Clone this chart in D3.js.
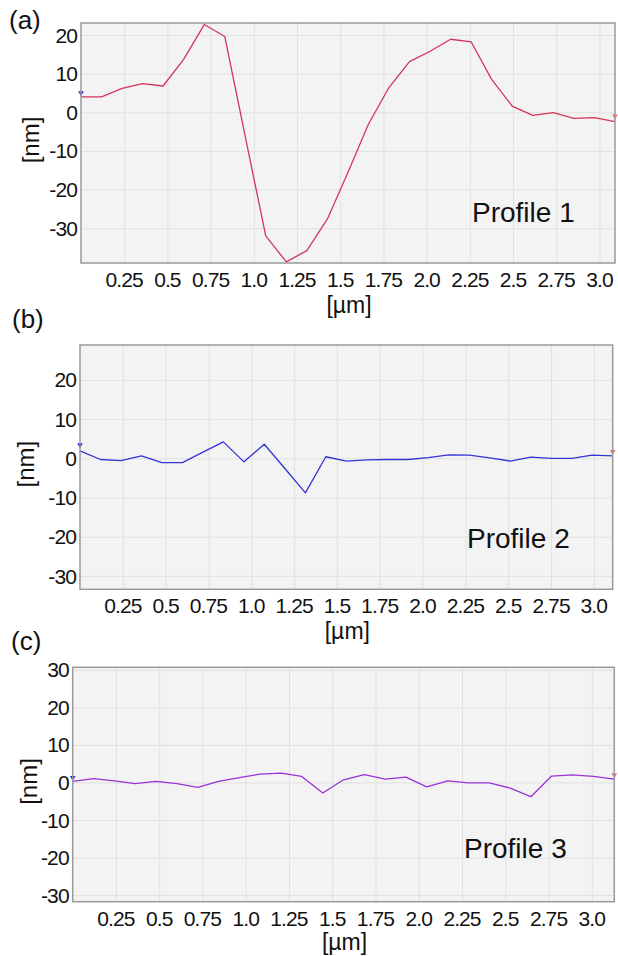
<!DOCTYPE html>
<html>
<head>
<meta charset="utf-8">
<script src="https://cdn.jsdelivr.net/npm/d3@7"></script>
<style>
  body { margin: 0; background: #fff; }
  text { font-family: "Liberation Sans", Arial, sans-serif; fill: #111; }
</style>
</head>
<body>
<svg width="618" height="956"></svg>
<script>
// profile data, x in µm, height in nm
var xA = [0, 0.119, 0.238, 0.356, 0.475, 0.594, 0.713, 0.832, 0.950, 1.069, 1.188, 1.307, 1.426, 1.545,
          1.663, 1.782, 1.901, 2.020, 2.139, 2.258, 2.376, 2.495, 2.614, 2.733, 2.852, 2.971, 3.090];
var yA = [4.0, 4.0, 6.2, 7.4, 6.8, 13.7, 22.7, 19.6, -6.2, -32.0, -38.7, -35.8, -27.6, -15.5,
          -3.1, 6.4, 13.1, 15.8, 18.9, 18.2, 8.5, 1.6, -0.8, -0.1, -1.6, -1.4, -2.4];

var xB = [0, 0.120, 0.239, 0.359, 0.478, 0.598, 0.718, 0.837, 0.957, 1.076, 1.196, 1.316, 1.435, 1.555,
          1.675, 1.794, 1.914, 2.033, 2.153, 2.273, 2.392, 2.512, 2.632, 2.751, 2.871, 2.990, 3.110];
var yB = [1.9, -0.3, -0.6, 0.6, -1.1, -1.1, 1.6, 4.2, -0.9, 3.6, -2.6, -8.8, 0.4, -0.7,
          -0.4, -0.3, -0.3, 0.2, 0.9, 0.8, 0.1, -0.7, 0.3, 0.0, 0.0, 0.8, 0.6];

var xC = [0, 0.120, 0.241, 0.361, 0.482, 0.602, 0.722, 0.843, 0.963, 1.083, 1.204, 1.324, 1.445, 1.565,
          1.685, 1.806, 1.926, 2.046, 2.167, 2.287, 2.407, 2.528, 2.648, 2.768, 2.889, 3.009, 3.130];
var yC = [0.3, 1.0, 0.4, -0.3, 0.3, -0.3, -1.3, 0.3, 1.3, 2.2, 2.5, 1.6, -2.8, 0.7,
          2.1, 0.9, 1.4, -1.2, 0.4, -0.1, -0.1, -1.5, -3.8, 1.7, 2.0, 1.6, 0.9];

// cursor markers at both ends [left, right]
var markA = [5.0, -1.0];
var markB = [3.4, 1.7];
var markC = [1.3, 2.0];

var xTicks = [0.25, 0.5, 0.75, 1.0, 1.25, 1.5, 1.75, 2.0, 2.25, 2.5, 2.75, 3.0];
var xTickLabels = ["0.25", "0.5", "0.75", "1.0", "1.25", "1.5", "1.75", "2.0", "2.25", "2.5", "2.75", "3.0"];
var yTicksAB = [20, 10, 0, -10, -20, -30];
var yTicksC = [30, 20, 10, 0, -10, -20, -30];

var svg = d3.select("svg");
svg.append("rect").attr("width", 618).attr("height", 956).attr("fill", "#fff");

function drawPanel(p) {
    var x = d3.scaleLinear().domain(p.xDomain).range([p.left, p.right]);
    var y = d3.scaleLinear().domain(p.yDomain).range([p.bottom, p.top]);
    var g = svg.append("g");

    // plot background
    g.append("rect")
        .attr("x", p.left).attr("y", p.top)
        .attr("width", p.right - p.left).attr("height", p.bottom - p.top)
        .attr("fill", "#f3f3f3");

    // grid
    g.append("g")
        .attr("transform", "translate(0," + p.bottom + ")")
        .call(d3.axisBottom(x).tickValues(xTicks).tickSize(-(p.bottom - p.top)).tickFormat(""))
        .call(s => s.select(".domain").remove())
        .selectAll("line").attr("stroke", "#e1e1e1");
    g.append("g")
        .attr("transform", "translate(" + p.left + ",0)")
        .call(d3.axisLeft(y).tickValues(p.yTicks).tickSize(-(p.right - p.left)).tickFormat(""))
        .call(s => s.select(".domain").remove())
        .selectAll("line").attr("stroke", "#e1e1e1");

    // tick labels
    g.selectAll(".xl").data(xTicks).join("text")
        .attr("x", d => x(d)).attr("y", p.bottom + 24)
        .attr("text-anchor", "middle")
        .style("font-size", "21px").style("letter-spacing", "-0.9px")
        .text((d, i) => xTickLabels[i]);
    g.selectAll(".yl").data(p.yTicks).join("text")
        .attr("x", p.left - 4).attr("y", d => y(d)).attr("dy", "0.36em")
        .attr("text-anchor", "end")
        .style("font-size", "21px").style("letter-spacing", "-0.9px")
        .text(d => d);

    // the profile line
    var line = d3.line().x(d => x(d[0])).y(d => y(d[1]));
    g.append("path")
        .datum(d3.zip(p.xs, p.ys))
        .attr("fill", "none")
        .attr("stroke", p.color)
        .attr("stroke-width", 1.3)
        .attr("stroke-linejoin", "round")
        .attr("d", line);

    // small cursor triangles
    var tri = d3.symbol().type(d3.symbolTriangle).size(14);
    g.append("path").attr("d", tri)
        .attr("transform", "translate(" + x(p.xDomain[0]) + "," + y(p.marks[0]) + ") rotate(180)")
        .attr("fill", "#2a2ae0");
    g.append("path").attr("d", tri)
        .attr("transform", "translate(" + x(p.xDomain[1]) + "," + y(p.marks[1]) + ") rotate(180)")
        .attr("fill", "#f07070");

    // border
    g.append("rect")
        .attr("x", p.left).attr("y", p.top)
        .attr("width", p.right - p.left).attr("height", p.bottom - p.top)
        .attr("fill", "none").attr("stroke", "#9a9a9a").attr("stroke-width", 1.5);

    // axis titles
    g.append("text")
        .attr("transform", "translate(" + p.nmX + "," + ((p.top + p.bottom) / 2 - 3) + ") rotate(-90)")
        .attr("text-anchor", "middle")
        .style("font-size", "24px")
        .text("[nm]");
    g.append("text")
        .attr("x", (p.left + p.right) / 2 + 1).attr("y", p.bottom + p.umDy)
        .attr("text-anchor", "middle")
        .style("font-size", "23px")
        .text("[µm]");

    g.append("text")
        .attr("x", p.profX).attr("y", p.profY)
        .style("font-size", "28px")
        .text(p.name);
    g.append("text")
        .attr("x", p.tagX).attr("y", p.tagY)
        .style("font-size", "26px")
        .text(p.tag);
}

drawPanel({xs: xA, ys: yA, marks: markA, color: "#d2365a", yTicks: yTicksAB,
    left: 81, right: 615, top: 23, bottom: 263, xDomain: [0, 3.09], yDomain: [-39, 23.1],
    nmX: 39, umDy: 50, profX: 472, profY: 222, name: "Profile 1", tag: "(a)", tagX: 9, tagY: 29});
drawPanel({xs: xB, ys: yB, marks: markB, color: "#3434d4", yTicks: yTicksAB,
    left: 80, right: 612.7, top: 345, bottom: 589.3, xDomain: [0, 3.11], yDomain: [-33.4, 28.9],
    nmX: 34, umDy: 50, profX: 467, profY: 548, name: "Profile 2", tag: "(b)", tagX: 12, tagY: 328});
drawPanel({xs: xC, ys: yC, marks: markC, color: "#9a32d6", yTicks: yTicksC,
    left: 72.7, right: 614.3, top: 667.3, bottom: 901.7, xDomain: [0, 3.13], yDomain: [-31.8, 30.7],
    nmX: 37, umDy: 48, profX: 464, profY: 858, name: "Profile 3", tag: "(c)", tagX: 11, tagY: 650});
</script>
</body>
</html>
